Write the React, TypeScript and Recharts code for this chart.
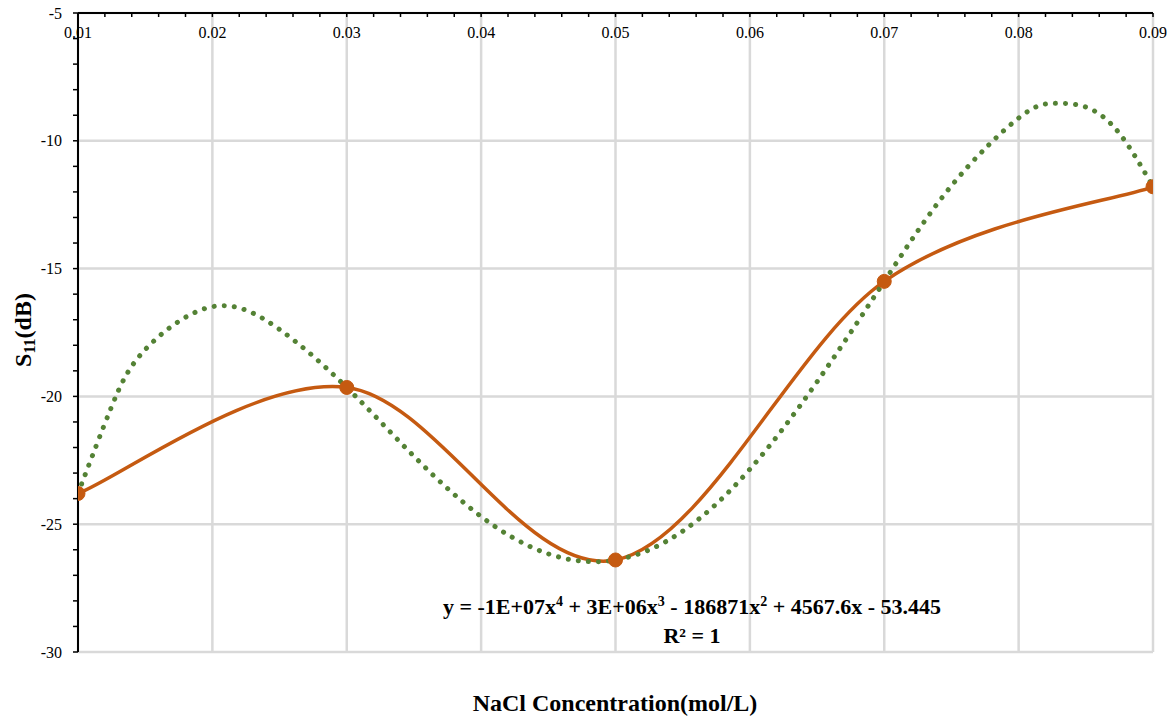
import React from 'react';
import { LineChart, Line, XAxis, YAxis, CartesianGrid } from 'recharts';

// Measured series
const concentrations = [0.01, 0.03, 0.05, 0.07, 0.09];
const s11Values = [-23.8, -19.65, -26.4, -15.5, -11.8];

// Polynomial trendline (dotted)
const trendX = [0.01, 0.0125, 0.015, 0.02, 0.025, 0.03, 0.035, 0.04, 0.045, 0.05, 0.055, 0.06, 0.065, 0.07, 0.075, 0.08, 0.0825, 0.085, 0.0875, 0.09];
const trendY = [-23.8, -20.4, -18.17, -16.49, -17.38, -19.65, -22.34, -24.7, -26.16, -26.4, -25.27, -22.85, -19.43, -15.5, -11.76, -9.11, -8.54, -8.68, -9.71, -11.8];

// Axis ticks
const xMajorTicks = [0.01, 0.02, 0.03, 0.04, 0.05, 0.06, 0.07, 0.08, 0.09];
const xMinorTicks = [0.01, 0.012, 0.014, 0.016, 0.018, 0.02, 0.022, 0.024, 0.026, 0.028, 0.03, 0.032, 0.034, 0.036, 0.038, 0.04, 0.042, 0.044, 0.046, 0.048, 0.05, 0.052, 0.054, 0.056, 0.058, 0.06, 0.062, 0.064, 0.066, 0.068, 0.07, 0.072, 0.074, 0.076, 0.078, 0.08, 0.082, 0.084, 0.086, 0.088, 0.09];
const yMajorTicks = [-30, -25, -20, -15, -10, -5];
const yMinorTicks = [-30, -29, -28, -27, -26, -25, -24, -23, -22, -21, -20, -19, -18, -17, -16, -15, -14, -13, -12, -11, -10, -9, -8, -7, -6, -5];

const mainData = concentrations.map((x, i) => ({ x, y: s11Values[i] }));
const trendData = trendX.map((x, i) => ({ x, y: trendY[i] }));

const FONT = 'Liberation Serif';
const ORANGE = '#C55A11';
const GREEN = '#548235';

// Excel-like smoothed line (Catmull-Rom style Bezier)
const excelCurve = (context: any) => {
  let pts: number[][] = [];
  return {
    areaStart() {},
    areaEnd() {},
    lineStart() {
      pts = [];
    },
    point(x: number, y: number) {
      pts.push([+x, +y]);
    },
    lineEnd() {
      if (!pts.length) return;
      context.moveTo(pts[0][0], pts[0][1]);
      for (let i = 0; i < pts.length - 1; i++) {
        const p0 = pts[i - 1] || pts[i];
        const p1 = pts[i];
        const p2 = pts[i + 1];
        const p3 = pts[i + 2] || p2;
        context.bezierCurveTo(
          p1[0] + (p2[0] - p0[0]) / 6,
          p1[1] + (p2[1] - p0[1]) / 6,
          p2[0] - (p3[0] - p1[0]) / 6,
          p2[1] - (p3[1] - p1[1]) / 6,
          p2[0],
          p2[1]
        );
      }
    },
  };
};

const isMajorX = (v: number) => xMajorTicks.some((m) => Math.abs(m - v) < 1e-9);
const isMajorY = (v: number) => yMajorTicks.some((m) => Math.abs(m - v) < 1e-9);

const XTick = (props: any) => {
  const { x, y, payload } = props;
  const v = payload.value as number;
  if (!isMajorX(v)) return <g />;
  return (
    <text x={x} y={y + 12} textAnchor="middle" fontFamily={FONT} fontSize={16} fill="#000">
      {v.toFixed(2)}
    </text>
  );
};

const YTick = (props: any) => {
  const { x, y, payload } = props;
  const v = payload.value as number;
  if (!isMajorY(v)) return <g />;
  return (
    <text x={x} y={y + 5.5} textAnchor="end" fontFamily={FONT} fontSize={16} fill="#000">
      {String(v)}
    </text>
  );
};

export default function App() {
  return (
    <div style={{ position: 'absolute', left: 0, top: 0, width: 1174, height: 723, background: '#fff' }}>
      <LineChart
        width={1174}
        height={723}
        margin={{ top: 13, right: 21, bottom: 71, left: 0 }}
      >
        <CartesianGrid
          horizontalValues={yMajorTicks}
          verticalValues={xMajorTicks}
          stroke="#d9d9d9"
          strokeWidth={2.5}
        />
        <XAxis
          type="number"
          dataKey="x"
          domain={[0.01, 0.09]}
          allowDataOverflow
          orientation="top"
          mirror
          ticks={xMinorTicks}
          interval={0}
          tickSize={4}
          tickMargin={9}
          axisLine={{ stroke: '#000', strokeWidth: 2 }}
          tickLine={{ stroke: '#000', strokeWidth: 1.5 }}
          tick={<XTick />}
        />
        <YAxis
          type="number"
          domain={[-30, -5]}
          allowDataOverflow
          ticks={yMinorTicks}
          interval={0}
          width={78}
          tickSize={5}
          tickMargin={11}
          axisLine={{ stroke: '#000', strokeWidth: 2 }}
          tickLine={{ stroke: '#000', strokeWidth: 1.5 }}
          tick={<YTick />}
        />
        <Line
          data={mainData}
          dataKey="y"
          type={excelCurve as any}
          stroke={ORANGE}
          strokeWidth={3.5}
          dot={{ r: 7, fill: ORANGE, stroke: ORANGE, strokeWidth: 1 }}
          activeDot={false}
          isAnimationActive={false}
        />
        <Line
          data={trendData}
          dataKey="y"
          type="natural"
          stroke={GREEN}
          strokeWidth={5}
          strokeDasharray="0.1 10"
          strokeLinecap="round"
          dot={false}
          activeDot={false}
          isAnimationActive={false}
        />
      </LineChart>
      <svg
        width={1174}
        height={723}
        style={{ position: 'absolute', left: 0, top: 0, pointerEvents: 'none' }}
      >
        <g fontFamily={FONT} fontWeight="bold" fill="#000">
          <text x={615} y={711} fontSize={24} textAnchor="middle">
            NaCl Concentration(mol/L)
          </text>
          <text transform="translate(31,330) rotate(-90)" fontSize={24} textAnchor="middle">
            S<tspan fontSize={16} dy={4}>11</tspan>
            <tspan dy={-4}>(dB)</tspan>
          </text>
          <text x={692} y={614} fontSize={22} textAnchor="middle">
            y = -1E+07x<tspan fontSize={14} dy={-8}>4</tspan>
            <tspan dy={8}> + 3E+06x</tspan>
            <tspan fontSize={14} dy={-8}>3</tspan>
            <tspan dy={8}> - 186871x</tspan>
            <tspan fontSize={14} dy={-8}>2</tspan>
            <tspan dy={8}> + 4567.6x - 53.445</tspan>
          </text>
          <text x={692} y={643} fontSize={22} textAnchor="middle">
            R² = 1
          </text>
        </g>
      </svg>
    </div>
  );
}
